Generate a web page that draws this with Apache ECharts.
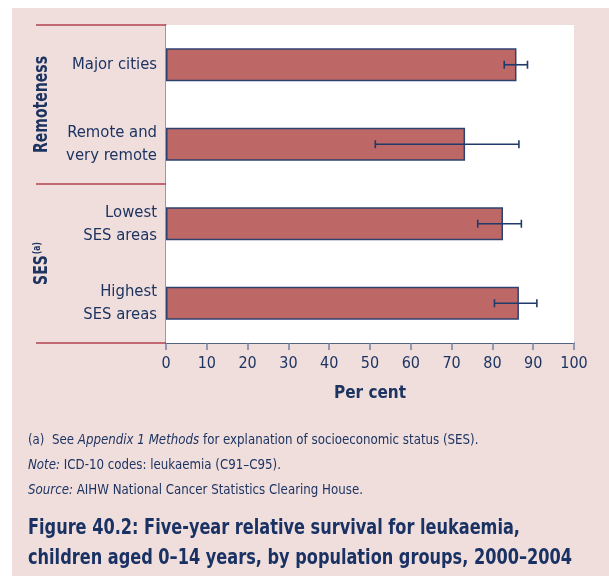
<!DOCTYPE html>
<html>
<head>
<meta charset="utf-8">
<script src="https://cdn.jsdelivr.net/npm/echarts@6/dist/echarts.min.js"></script>
<style>
html,body{margin:0;padding:0;background:#fff;}
#chart{width:609px;height:576px;}
</style>
</head>
<body>
<div id="chart"></div>
<script>
// ---- data ----
const categories = ['Major cities', 'Remote and\nvery remote', 'Lowest\nSES areas', 'Highest\nSES areas'];
const survival = [85.9, 73.3, 82.6, 86.5];
const lowerCI = [82.9, 51.3, 76.4, 80.5];
const upperCI = [88.6, 86.5, 87.1, 90.9];
const groupNames = ['Remoteness', 'SES'];
const xTickValues = [0, 10, 20, 30, 40, 50, 60, 70, 80, 90, 100];

const FONT = "'Liberation Sans Narrow', 'DejaVu Sans Condensed', 'Arial Narrow', sans-serif";
const NAVY = '#1d3461';
const PINK = '#f0dedd';
const GRID = {left: 166, top: 25, right: 35, bottom: 233};

const chart = echarts.init(document.getElementById('chart'), null, {renderer: 'canvas'});

const errData = categories.map((c, i) => [i, lowerCI[i], upperCI[i]]);

const option = {
  backgroundColor: '#ffffff',
  animation: false,
  textStyle: {fontFamily: FONT},
  grid: {left: GRID.left, top: GRID.top, right: GRID.right, bottom: GRID.bottom,
         show: true, backgroundColor: '#ffffff', borderWidth: 0, z: 1},
  xAxis: {
    type: 'value', min: xTickValues[0], max: xTickValues[xTickValues.length - 1], interval: 10,
    splitLine: {show: false},
    axisLine: {show: true, lineStyle: {color: '#1f3864', width: 1.5}},
    axisTick: {show: true, length: 7, lineStyle: {color: '#6f83a5', width: 1.5}},
    axisLabel: {fontSize: 16, color: NAVY, margin: 13, fontFamily: FONT},
    name: 'Per cent', nameLocation: 'middle', nameGap: 42,
    nameTextStyle: {fontSize: 17, fontWeight: 'bold', color: NAVY, fontFamily: FONT}
  },
  yAxis: {
    type: 'category', data: categories, inverse: true,
    axisLine: {show: true, lineStyle: {color: '#6f83a5', width: 1.5}},
    axisTick: {show: false},
    axisLabel: {fontSize: 16.5, lineHeight: 23, color: NAVY, margin: 9, align: 'right', fontFamily: FONT}
  },
  series: [
    {
      type: 'bar', data: survival, barWidth: 33, z: 2,
      itemStyle: {color: '#bd6767', borderColor: '#2e4270', borderWidth: 1.5}
    },
    {
      type: 'custom', z: 3,
      data: errData,
      encode: {x: [1, 2], y: 0},
      renderItem: function (params, api) {
        const y = api.value(0);
        const a = api.coord([api.value(1), y]);
        const b = api.coord([api.value(2), y]);
        const h = 4;
        const st = {stroke: '#1f3a6b', lineWidth: 1.6};
        return {
          type: 'group',
          children: [
            {type: 'line', shape: {x1: a[0], y1: a[1], x2: b[0], y2: b[1]}, style: st},
            {type: 'line', shape: {x1: a[0], y1: a[1] - h, x2: a[0], y2: a[1] + h}, style: st},
            {type: 'line', shape: {x1: b[0], y1: b[1] - h, x2: b[0], y2: b[1] + h}, style: st}
          ]
        };
      }
    }
  ]
};

chart.setOption(option);

// decorations computed from the grid
const plotTop = GRID.top, plotBottom = 576 - GRID.bottom;
const bandH = (plotBottom - plotTop) / categories.length;
const sepYs = [plotTop, plotTop + 2 * bandH, plotBottom];
const sepColor = '#b2404f';

const graphics = [
  {type: 'rect', z: -10, shape: {x: 12, y: 8, width: 609 - 12, height: 576 - 8}, style: {fill: PINK}, silent: true}
];
sepYs.forEach(function (y) {
  graphics.push({type: 'line', z: 10, shape: {x1: 36, y1: y, x2: GRID.left, y2: y},
                 style: {stroke: sepColor, lineWidth: 1.3}});
});
// group labels (rotated)
graphics.push({
  type: 'text', z: 10, x: 42, y: plotTop + bandH, rotation: Math.PI / 2, scaleX: 0.78,
  style: {text: groupNames[0], font: 'bold 20px ' + FONT, fill: NAVY, align: 'center', verticalAlign: 'middle'}
});
graphics.push({
  type: 'text', z: 10, x: 42, y: plotTop + 3 * bandH, rotation: Math.PI / 2, scaleX: 0.78,
  style: {
    text: '{b|' + groupNames[1] + '}{s|(a)}',
    align: 'center', verticalAlign: 'middle',
    rich: {
      b: {font: 'bold 20px ' + FONT, fill: NAVY},
      s: {font: 'bold 11px ' + FONT, fill: NAVY, verticalAlign: 'top', padding: [0, 0, 10, 1]}
    }
  }
});
// footnotes
const noteRich = {
  n: {font: '14px ' + FONT, fill: NAVY},
  i: {font: 'italic 14px ' + FONT, fill: NAVY}
};
const notes = [
  '{n|(a)  See }{i|Appendix 1 Methods}{n| for explanation of socioeconomic status (SES).}',
  '{i|Note:}{n| ICD-10 codes: leukaemia (C91–C95).}',
  '{i|Source:}{n| AIHW National Cancer Statistics Clearing House.}'
];
const noteBase = [444, 469, 494];
notes.forEach(function (t, i) {
  graphics.push({type: 'text', z: 10, x: 28, y: noteBase[i] + 3, scaleX: 0.94,
    style: {text: t, rich: noteRich, verticalAlign: 'bottom', align: 'left'}});
});
const titles = ['Figure 40.2: Five-year relative survival for leukaemia,',
                'children aged 0–14 years, by population groups, 2000–2004'];
const titleBase = [535, 565];
titles.forEach(function (t, i) {
  graphics.push({type: 'text', z: 10, x: 28, y: titleBase[i] + 4, scaleX: 0.855,
    style: {text: t, font: 'bold 21px ' + FONT, fill: '#1a3263', verticalAlign: 'bottom', align: 'left'}});
});

chart.setOption({graphic: graphics});
</script>
</body>
</html>
